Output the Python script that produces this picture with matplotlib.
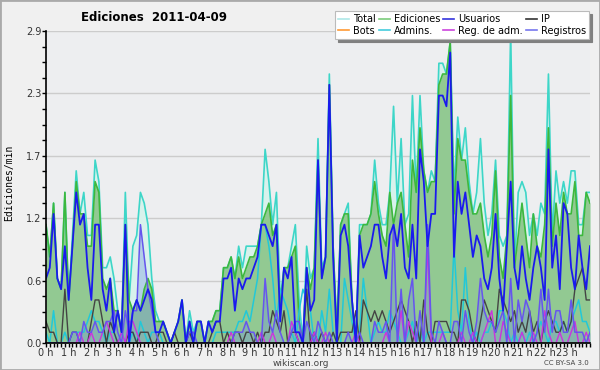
import numpy as np
import matplotlib
matplotlib.use("Agg")
import matplotlib.pyplot as plt
from matplotlib.lines import Line2D
from matplotlib.patches import Rectangle
from matplotlib.ticker import FixedLocator, MultipleLocator

# values per minute, one point every 10 minutes (0h .. 24h)
total = [
    1.1, 0.8, 1.3, 0.6, 0.5, 1.4,
    0.4, 1.0, 1.6, 1.2, 1.4, 1.0,
    1.0, 1.7, 1.5, 0.7, 0.7, 0.8,
    0.6, 0.3, 0.1, 1.4, 0.4, 0.9,
    1.0, 1.4, 1.3, 1.1, 0.6, 0.3,
    0.2, 0.2, 0.1, 0.0, 0.1, 0.2,
    0.4, 0.0, 0.3, 0.1, 0.2, 0.2,
    0.0, 0.2, 0.2, 0.3, 0.3, 0.7,
    0.7, 0.8, 0.6, 0.9, 0.7, 0.9,
    0.9, 0.9, 0.9, 1.1, 1.8, 1.5,
    1.1, 1.4, 0.4, 0.7, 0.7, 0.9,
    1.1, 0.4, 0.0, 0.9, 0.6, 0.7,
    1.9, 0.7, 0.8, 2.5, 0.9, 0.1,
    1.1, 1.2, 1.3, 0.4, 0.0, 1.1,
    1.1, 1.1, 1.2, 1.7, 1.3, 1.1,
    1.1, 1.4, 2.2, 1.3, 1.9, 1.1,
    1.2, 2.3, 1.4, 2.3, 1.6, 1.4,
    1.6, 1.5, 2.6, 2.6, 2.5, 2.8,
    1.4, 2.1, 1.7, 2.0, 1.5, 1.2,
    1.4, 1.9, 1.3, 1.0, 1.2, 1.7,
    1.0, 0.9, 1.0, 2.9, 0.7, 1.4,
    1.5, 1.4, 1.0, 1.2, 1.0, 1.3,
    1.2, 2.5, 1.0, 1.6, 1.3, 1.5,
    1.3, 1.6, 1.6, 1.1, 1.1, 1.4,
    1.4,
]
ediciones = [
    1.1, 0.8, 1.3, 0.6, 0.5, 1.4,
    0.4, 0.9, 1.5, 1.2, 1.2, 0.9,
    0.9, 1.5, 1.4, 0.6, 0.5, 0.6,
    0.3, 0.3, 0.1, 1.1, 0.4, 0.3,
    0.4, 0.3, 0.5, 0.6, 0.5, 0.2,
    0.2, 0.2, 0.1, 0.0, 0.1, 0.2,
    0.4, 0.0, 0.2, 0.0, 0.2, 0.2,
    0.0, 0.2, 0.2, 0.3, 0.3, 0.7,
    0.7, 0.8, 0.6, 0.8, 0.6, 0.7,
    0.8, 0.8, 0.9, 1.1, 1.2, 1.3,
    1.0, 1.1, 0.3, 0.7, 0.7, 0.8,
    0.9, 0.2, 0.0, 0.7, 0.5, 0.7,
    1.7, 0.6, 0.8, 2.4, 0.9, 0.1,
    1.1, 1.2, 1.2, 0.4, 0.0, 1.0,
    1.1, 1.1, 1.2, 1.5, 1.2, 1.0,
    0.9, 1.4, 1.1, 1.3, 1.4, 1.1,
    0.8, 1.7, 1.4, 2.0, 1.6, 1.4,
    1.5, 1.5, 2.4, 2.5, 2.5, 2.8,
    1.2, 1.9, 1.7, 1.7, 1.4, 1.2,
    1.2, 1.3, 1.0, 0.8, 1.0, 1.6,
    0.8, 0.6, 1.0, 2.3, 0.7, 1.0,
    1.3, 1.0, 0.7, 1.2, 0.9, 0.8,
    1.1, 2.0, 0.9, 1.3, 1.0, 1.4,
    1.2, 1.2, 1.5, 1.0, 1.0, 1.4,
    1.3,
]
usuarios = [
    0.6, 0.7, 1.2, 0.6, 0.5, 0.9,
    0.4, 0.9, 1.4, 1.1, 1.2, 0.7,
    0.4, 1.1, 1.1, 0.5, 0.3, 0.6,
    0.1, 0.3, 0.1, 1.1, 0.0, 0.3,
    0.4, 0.3, 0.4, 0.5, 0.4, 0.1,
    0.1, 0.2, 0.1, 0.0, 0.1, 0.2,
    0.4, 0.0, 0.2, 0.0, 0.2, 0.2,
    0.0, 0.2, 0.1, 0.2, 0.2, 0.6,
    0.6, 0.7, 0.3, 0.6, 0.5, 0.6,
    0.6, 0.7, 0.8, 1.1, 1.1, 1.0,
    0.9, 1.1, 0.2, 0.7, 0.6, 0.8,
    0.1, 0.1, 0.0, 0.7, 0.3, 0.4,
    1.7, 0.6, 0.8, 2.4, 0.8, 0.0,
    1.0, 1.1, 0.9, 0.4, 0.0, 1.0,
    0.7, 0.8, 0.9, 1.1, 1.1, 0.8,
    0.6, 1.0, 1.1, 0.9, 1.2, 0.7,
    0.6, 1.1, 0.6, 1.8, 1.5, 0.9,
    1.2, 1.2, 2.3, 2.3, 2.2, 2.7,
    0.8, 1.5, 1.2, 1.4, 1.1, 0.8,
    1.0, 0.9, 0.6, 0.5, 0.7, 1.2,
    0.6, 0.3, 0.9, 1.5, 0.7, 0.5,
    0.9, 0.6, 0.4, 0.7, 0.9, 0.7,
    0.4, 1.8, 0.7, 1.0, 0.5, 1.3,
    1.2, 0.7, 0.5, 1.0, 0.7, 0.5,
    0.9,
]
ip = [
    0.2, 0.1, 0.1, 0.0, 0.0, 0.5,
    0.0, 0.1, 0.1, 0.0, 0.0, 0.0,
    0.2, 0.4, 0.4, 0.2, 0.0, 0.2,
    0.1, 0.0, 0.0, 0.0, 0.1, 0.1,
    0.0, 0.1, 0.1, 0.1, 0.0, 0.0,
    0.1, 0.1, 0.0, 0.0, 0.1, 0.0,
    0.0, 0.0, 0.1, 0.0, 0.0, 0.0,
    0.0, 0.0, 0.1, 0.2, 0.2, 0.0,
    0.1, 0.0, 0.1, 0.1, 0.0, 0.1,
    0.1, 0.0, 0.1, 0.0, 0.1, 0.1,
    0.3, 0.2, 0.1, 0.3, 0.0, 0.1,
    0.1, 0.0, 0.0, 0.5, 0.0, 0.1,
    0.0, 0.1, 0.0, 0.0, 0.1, 0.0,
    0.1, 0.1, 0.1, 0.1, 0.3, 0.0,
    0.4, 0.3, 0.2, 0.3, 0.2, 0.3,
    0.2, 0.1, 0.2, 0.3, 0.4, 0.3,
    0.2, 0.0, 0.2, 0.0, 0.4, 0.1,
    0.0, 0.2, 0.2, 0.2, 0.2, 0.1,
    0.1, 0.0, 0.4, 0.4, 0.3, 0.1,
    0.0, 0.2, 0.4, 0.3, 0.2, 0.1,
    0.5, 0.4, 0.3, 0.2, 0.3, 0.1,
    0.2, 0.1, 0.3, 0.1, 0.2, 0.0,
    0.2, 0.3, 0.2, 0.1, 0.1, 0.2,
    0.1, 0.2, 0.5, 0.6, 0.7, 0.4,
    0.4,
]
admins = [
    0.1, 0.0, 0.3, 0.0, 0.0, 0.1,
    0.0, 0.1, 0.1, 0.1, 0.1, 0.2,
    0.3, 0.2, 0.2, 0.1, 0.0, 0.1,
    0.1, 0.0, 0.1, 0.0, 0.0, 0.1,
    0.0, 0.2, 0.1, 0.0, 0.1, 0.1,
    0.1, 0.0, 0.0, 0.0, 0.0, 0.0,
    0.0, 0.0, 0.2, 0.0, 0.0, 0.0,
    0.0, 0.0, 0.0, 0.1, 0.1, 0.1,
    0.1, 0.1, 0.1, 0.2, 0.2, 0.3,
    0.2, 0.4, 0.6, 1.1, 1.1, 0.9,
    0.6, 0.2, 0.5, 0.4, 0.3, 0.1,
    0.0, 0.3, 0.5, 0.4, 0.3, 0.0,
    0.0, 0.3, 0.1, 0.5, 0.1, 0.0,
    0.0, 0.6, 0.4, 0.2, 0.0, 0.1,
    0.6, 0.3, 0.0, 0.1, 0.2, 0.1,
    0.1, 0.3, 0.2, 0.1, 0.0, 0.0,
    0.1, 0.2, 0.0, 0.1, 0.0, 0.1,
    0.1, 0.1, 0.1, 0.1, 0.1, 0.1,
    0.9, 0.3, 0.1, 0.7, 0.2, 0.0,
    0.1, 0.0, 0.1, 0.1, 0.2, 0.1,
    0.3, 0.3, 0.2, 0.0, 0.1, 0.0,
    0.1, 0.0, 0.1, 0.0, 0.1, 0.2,
    0.1, 0.0, 0.2, 0.2, 0.1, 0.2,
    0.1, 0.2, 0.3, 0.4, 0.2, 0.2,
    0.1,
]
registros = [
    0.0, 0.0, 0.0, 0.0, 0.0, 0.0,
    0.0, 0.1, 0.1, 0.0, 0.2, 0.1,
    0.1, 0.2, 0.1, 0.1, 0.2, 0.2,
    0.3, 0.1, 0.0, 0.3, 0.1, 0.3,
    0.3, 1.1, 0.8, 0.5, 0.3, 0.1,
    0.0, 0.0, 0.0, 0.0, 0.0, 0.0,
    0.0, 0.0, 0.1, 0.1, 0.0, 0.0,
    0.0, 0.0, 0.0, 0.0, 0.0, 0.0,
    0.0, 0.0, 0.1, 0.1, 0.1, 0.2,
    0.1, 0.1, 0.0, 0.0, 0.6, 0.2,
    0.1, 0.3, 0.1, 0.0, 0.0, 0.1,
    0.2, 0.2, 0.0, 0.2, 0.1, 0.0,
    0.2, 0.1, 0.0, 0.1, 0.0, 0.0,
    0.0, 0.0, 0.1, 0.0, 0.0, 0.1,
    0.0, 0.0, 0.0, 0.2, 0.1, 0.1,
    0.2, 0.0, 1.1, 0.0, 0.5, 0.0,
    0.4, 0.6, 0.0, 0.3, 0.0, 1.1,
    0.1, 0.0, 0.2, 0.1, 0.0, 0.0,
    0.2, 0.2, 0.0, 0.3, 0.1, 0.0,
    0.2, 0.6, 0.3, 0.2, 0.2, 0.1,
    0.2, 0.3, 0.0, 0.6, 0.0, 0.4,
    0.2, 0.4, 0.3, 0.0, 0.1, 0.5,
    0.1, 0.5, 0.1, 0.3, 0.3, 0.1,
    0.1, 0.4, 0.1, 0.1, 0.1, 0.0,
    0.1,
]
reg_adm = [
    0.0, 0.0, 0.0, 0.0, 0.0, 0.0,
    0.0, 0.0, 0.0, 0.1, 0.0, 0.0,
    0.1, 0.0, 0.0, 0.1, 0.2, 0.1,
    0.0, 0.0, 0.1, 0.0, 0.2, 0.2,
    0.1, 0.0, 0.0, 0.0, 0.0, 0.0,
    0.0, 0.0, 0.0, 0.0, 0.0, 0.0,
    0.0, 0.0, 0.0, 0.0, 0.0, 0.0,
    0.0, 0.0, 0.0, 0.0, 0.0, 0.0,
    0.0, 0.1, 0.0, 0.0, 0.0, 0.0,
    0.0, 0.0, 0.0, 0.1, 0.0, 0.0,
    0.1, 0.0, 0.0, 0.0, 0.0, 0.2,
    0.1, 0.0, 0.0, 0.0, 0.0, 0.1,
    0.0, 0.0, 0.1, 0.0, 0.0, 0.0,
    0.0, 0.0, 0.0, 0.0, 0.1, 0.0,
    0.0, 0.0, 0.0, 0.0, 0.0, 0.0,
    0.1, 0.0, 0.0, 0.0, 0.3, 0.0,
    0.2, 0.1, 0.0, 0.0, 0.0, 0.9,
    0.0, 0.0, 0.0, 0.1, 0.0, 0.0,
    0.0, 0.0, 0.1, 0.0, 0.0, 0.1,
    0.0, 0.0, 0.1, 0.2, 0.3, 0.0,
    0.0, 0.2, 0.1, 0.0, 0.0, 0.0,
    0.1, 0.0, 0.0, 0.1, 0.0, 0.0,
    0.3, 0.1, 0.0, 0.0, 0.1, 0.0,
    0.0, 0.1, 0.2, 0.0, 0.0, 0.1,
    0.0,
]
bots = [0.0] * 145

hours = np.arange(len(total)) / 6.0
hour_labels = [f"{h} h" for h in range(24)]
y_ticks = [0.0, 0.58, 1.16, 1.74, 2.32, 2.9]
y_labels = ["0.0", "0.6", "1.2", "1.7", "2.3", "2.9"]

fig = plt.figure(figsize=(6.0, 3.7), dpi=100, facecolor="#f0f0f0")
fig.patches.append(Rectangle((0, 0), 1, 1, transform=fig.transFigure,
                             fill=False, edgecolor="#aaaaaa", linewidth=2))
ax = fig.add_axes([46 / 600, 1 - 343 / 370, 544 / 600, 312 / 370])
ax.set_facecolor("#edeef0")

# areas
ax.fill_between(hours, total, color="#d8f2ec", linewidth=0)
ax.fill_between(hours, ediciones, color="#92c992", linewidth=0)
ax.fill_between(hours, registros, color="#6f8fe0", alpha=0.35, linewidth=0)

# lines
ax.plot(hours, total, color="#3dd6c8", lw=1.2)
ax.plot(hours, ediciones, color="#3db83d", lw=1.2)
ax.plot(hours, bots, color="#ff9922", lw=1.0)
ax.plot(hours, admins, color="#22c8d8", lw=1.1)
ax.plot(hours, ip, color="#444444", lw=1.0)
ax.plot(hours, reg_adm, color="#cc33dd", lw=1.0)
ax.plot(hours, registros, color="#6655ee", lw=1.1)
ax.plot(hours, usuarios, color="#1a1aee", lw=1.3)

ax.set_xlim(0, 24)
ax.set_ylim(0, 2.9)
ax.yaxis.set_major_locator(FixedLocator(y_ticks))
ax.set_yticklabels(y_labels)
ax.yaxis.set_minor_locator(MultipleLocator(0.145))
ax.xaxis.set_major_locator(FixedLocator(range(24)))
ax.set_xticklabels(hour_labels)
ax.xaxis.set_minor_locator(MultipleLocator(1 / 6))
ax.tick_params(axis="both", which="major", length=3, width=1, labelsize=7,
               labelcolor="#333333", pad=0.5)
ax.tick_params(axis="both", which="minor", length=3, width=1)
ax.grid(axis="y", which="major", color="#cccccc", linewidth=1)
ax.set_axisbelow(True)
for side in ["top", "right"]:
    ax.spines[side].set_visible(False)
for side in ["left", "bottom"]:
    ax.spines[side].set_linewidth(1.2)

fig.text(0.257, 0.954, "Ediciones  2011-04-09", ha="center", va="center",
         fontsize=8.5, fontweight="bold")
fig.text(0.016, 0.505, "Ediciones/min", rotation=90, ha="center", va="center",
         fontsize=7, family="DejaVu Sans Mono")
fig.text(0.502, 0.018, "wikiscan.org", ha="center", va="center",
         fontsize=6.5, color="#444444")
fig.text(0.982, 0.018, "CC BY-SA 3.0", ha="right", va="center",
         fontsize=5, color="#444444")

names = ["Total", "Bots", "Ediciones", "Admins.", "Usuarios", "Reg. de adm.",
         "IP", "Registros"]
swatches = ["#aee8e8", "#ff9933", "#7ccc7c", "#44ccdd", "#3333dd", "#cc44dd",
            "#333333", "#7777ee"]
handles = [Line2D([], [], color=c, lw=1.2) for c in swatches]
leg = fig.legend(handles, names, ncol=4, loc="upper right",
                 bbox_to_anchor=(589 / 600, 1 - 11 / 370), fontsize=7,
                 frameon=True, fancybox=False,
                 shadow={"color": "#808080", "alpha": 1.0},
                 handlelength=1.1, handletextpad=0.45, columnspacing=0.3,
                 labelspacing=0.2, borderpad=0.3, borderaxespad=0)
leg.get_frame().set_edgecolor("#bbbbbb")
leg.get_frame().set_linewidth(0.8)

fig.savefig("out.png", dpi=100, facecolor=fig.get_facecolor())
